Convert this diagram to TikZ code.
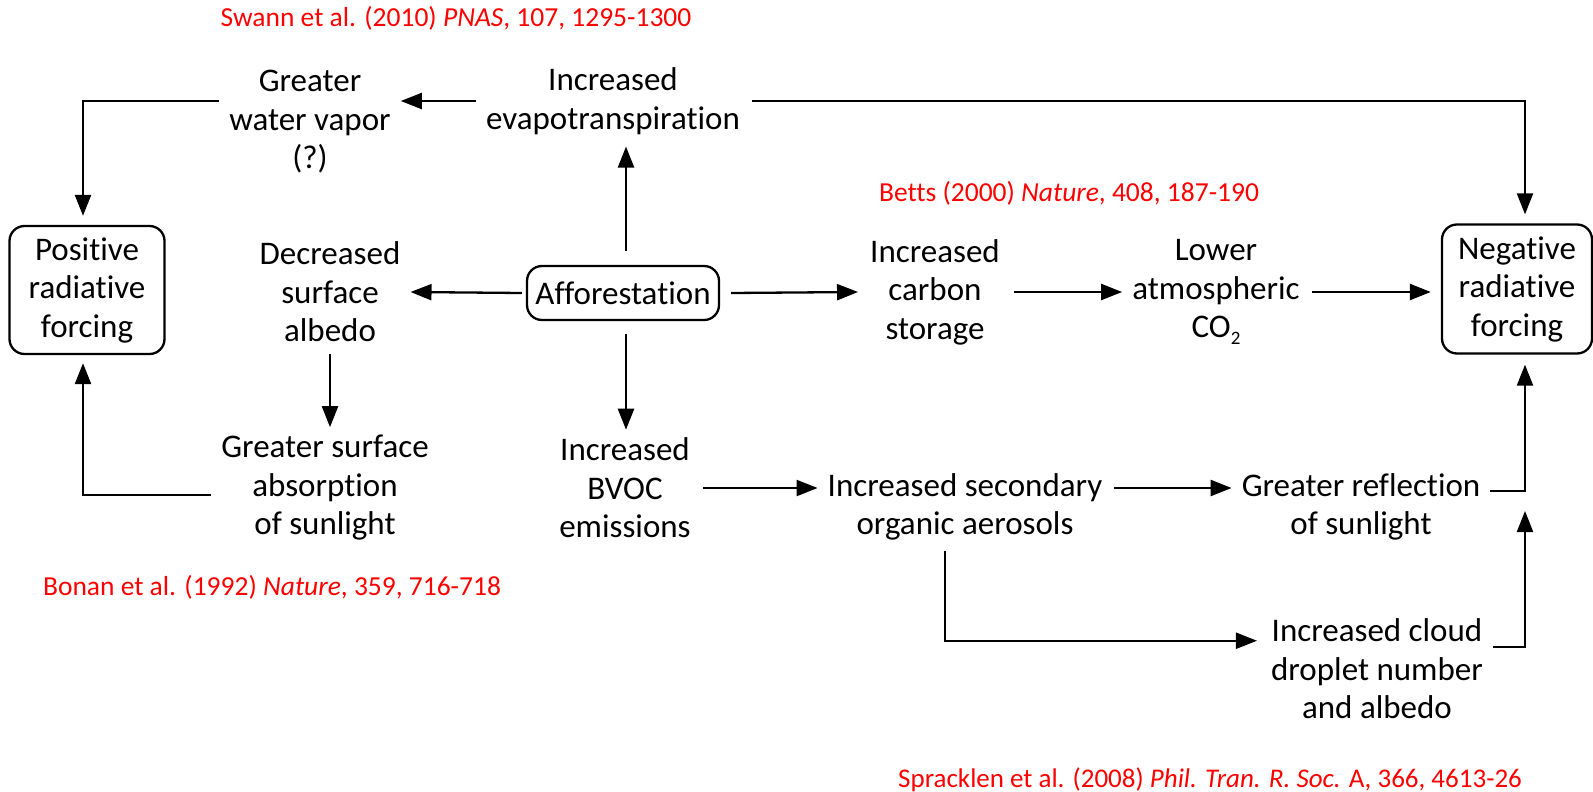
\documentclass[tikz,border=0pt]{standalone}
\usepackage{fontspec}
\setmainfont{Carlito}[Ligatures=NoCommon]
\usetikzlibrary{arrows.meta}
\begin{document}
\begin{tikzpicture}[x=1pt,y=-1pt,
  txt/.style={align=center, inner sep=0pt, font=\fontsize{33}{38.5}\selectfont},
  boxnode/.style={txt, draw, rounded corners=15pt, line width=2.3pt},
  refnote/.style={text=red, inner sep=0pt, font=\fontsize{27.5}{32}\selectfont},
  arr/.style={line width=2.3pt, -{Triangle[length=21pt,width=16pt]}},
  ln/.style={line width=2.3pt}]
\useasboundingbox (0,0) rectangle (1593,792);
% references
\node[refnote] (swann) at (456,18) {Swann et al. (2010) \textit{PNAS}, 107, 1295-1300};
\node[refnote] (betts) at (1069,193) {Betts (2000) \textit{Nature}, 408, 187-190};
\node[refnote] (bonan) at (272,587) {Bonan et al. (1992) \textit{Nature}, 359, 716-718};
\node[refnote, font=\fontsize{27}{32}\selectfont] (sprack) at (1210,780) {Spracklen et al. (2008) \textit{Phil. Tran. R. Soc.} A, 366, 4613-26};
% nodes
\node[txt] (water) at (310,122) {Greater\\water vapor\\(?)};
\node[txt] (evapo) at (613,101) {Increased\\evapotranspiration};
\node[boxnode, minimum width=155pt, minimum height=128pt] (pos) at (87,290) {Positive\\radiative\\forcing};
\node[txt] (decr) at (330,292) {Decreased\\surface\\albedo};
\node[boxnode, minimum width=192pt, minimum height=54pt] (aff) at (623,293) {Afforestation};
\node[txt] (carb) at (935,292) {Increased\\carbon\\storage};
\node[txt] (low) at (1216,292) {Lower\\atmospheric\\CO\raisebox{-0.45ex}{\fontsize{19}{19}\selectfont 2}};
\node[boxnode, minimum width=150pt, minimum height=129pt] (neg) at (1517,289) {Negative\\radiative\\forcing};
\node[txt] (gsurf) at (325,488) {Greater surface\\absorption\\of sunlight};
\node[txt] (bvoc) at (625,488) {Increased\\BVOC\\emissions};
\node[txt] (aer) at (965,507) {Increased secondary\\organic aerosols};
\node[txt] (refl) at (1361,507) {Greater reflection\\of sunlight};
\node[txt] (cloud) at (1377,669) {Increased cloud\\droplet number\\and albedo};
% connectors
\draw[arr] ([xshift=-10pt]evapo.west) -- ([xshift=10pt]evapo.west -| water.east);
\draw[arr, shorten >=9pt] ([xshift=-10pt]water.west |- evapo.west) -| ([xshift=-4pt]pos.north);
\draw[arr, shorten >=9pt] ([xshift=12pt]evapo.east) -| ([xshift=8pt]neg.north);
\draw[arr] ([xshift=-4pt]aff.west) -- ([xshift=10pt]decr.east);
\draw[arr] ([xshift=3pt,yshift=14pt]aff.north) -- ([xshift=3pt,yshift=-12pt]aff.north |- evapo.south);
\draw[arr] ([xshift=3pt,yshift=-13pt]aff.south) -- ([xshift=3pt,yshift=8pt]aff.south |- bvoc.north);
\draw[arr] ([xshift=11pt]aff.east) -- ([xshift=-12pt]carb.west);
\draw[arr] ([xshift=14pt]carb.east) -- ([xshift=-10pt]low.west);
\draw[arr, shorten >=10pt] ([xshift=12pt]low.east) -- (neg.west |- low.east);
\draw[arr] ([yshift=-12pt]decr.south) -- ([yshift=8pt]decr.south |- gsurf.north);
\draw[arr, shorten >=8pt] ([xshift=-10pt,yshift=-7pt]gsurf.west) -| ([xshift=-4pt]pos.south);
\draw[arr] ([xshift=12pt]bvoc.east) -- ([xshift=-10pt]aer.west |- bvoc.east);
\draw[arr] ([xshift=12pt]aer.east |- bvoc.east) -- ([xshift=-10pt]refl.west |- bvoc.east);
\draw[arr, shorten >=10pt] ([xshift=10pt,yshift=-3pt]refl.east |- bvoc.east) -| ([xshift=8pt]neg.south);
\draw[arr] ([xshift=-20pt,yshift=-10pt]aer.south) |- ([xshift=-14pt,yshift=-22pt]cloud.north west);
\draw[arr] ([xshift=10pt,yshift=-28pt]cloud.north east) -| ([xshift=8pt,yshift=-4pt]neg.south |- refl.center);
\end{tikzpicture}
\end{document}
